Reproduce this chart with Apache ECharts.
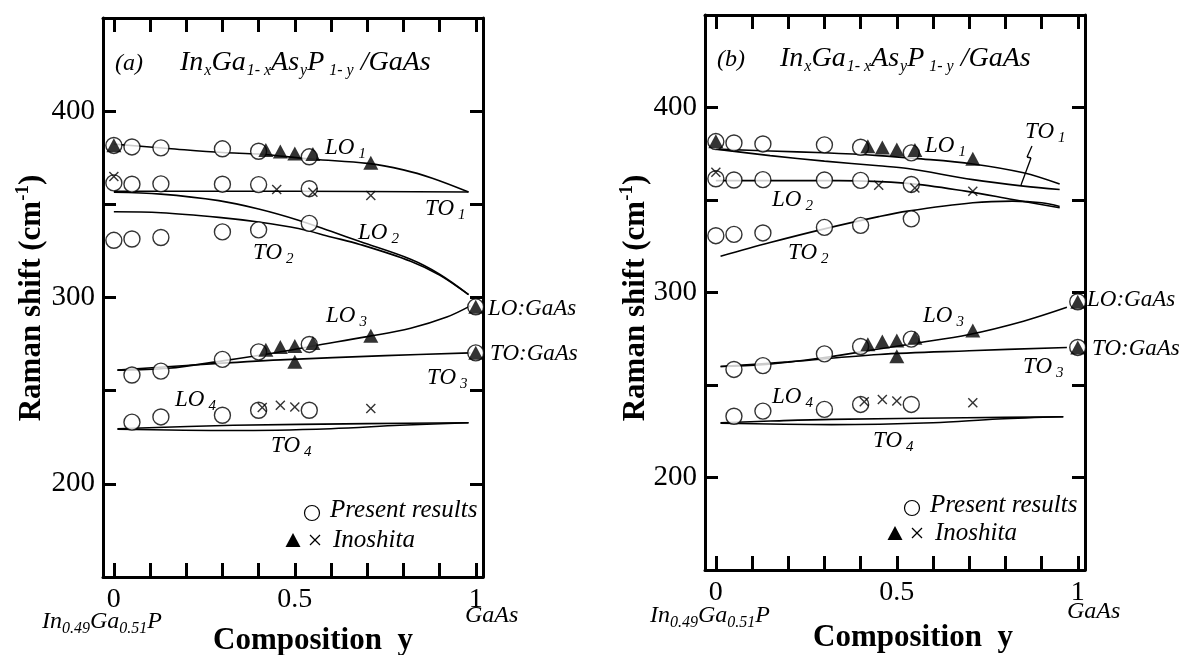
<!DOCTYPE html>
<html>
<head>
<meta charset="utf-8">
<script src="https://cdn.jsdelivr.net/npm/echarts@6/dist/echarts.min.js"></script>
<style>
  html, body { margin: 0; padding: 0; background: #fff; }
  #chart { width: 1190px; height: 655px; }
</style>
</head>
<body>
<div id="chart"></div>
<script>
const serif = '"Liberation Serif", "Times New Roman", serif'

// ---- measured points (same samples in both panels) ----
// present results (open circles)
const presentX = [0, 0.05, 0.13, 0.3, 0.4, 0.54]
const presentLO1 = [381.6, 380.8, 380.3, 379.8, 378.5, 375.5]
const presentTO1 = [361.5, 360.8, 361, 360.8, 360.6, 358.4]
const presentTO2 = [330.7, 331.4, 332.2, 335.2, 336.3, 339.8]
const presentX2 = [0.05, 0.13, 0.3, 0.4, 0.54]
const presentLO3 = [258.4, 260.5, 266.8, 270.8, 274.8]
const presentLO4 = [233.1, 235.9, 236.8, 239.5, 239.5]
// GaAs end point (LO, TO)
const gaasX = [1, 1]
const gaasModes = [295, 270.3]

// Inoshita (filled triangles and crosses)
const inoX1 = [0, 0.42, 0.46, 0.5, 0.55, 0.71]
const inoLO1 = [381.7, 379.1, 378.4, 377.3, 377, 372.3]
const inoX3 = [0.42, 0.46, 0.5, 0.55, 0.71]
const inoLO3 = [272, 273.5, 274, 275.6, 279.5]
const inoTO3X = [0.5]
const inoTO3 = [265.5]
const crossX1 = [0, 0.45, 0.55, 0.71]
const crossTO1 = [365, 358, 356.5, 354.7]
const crossX4 = [0.41, 0.46, 0.5, 0.71]
const crossLO4 = [241, 242.2, 241.3, 240.4]

// ---- calculated curves, panel (a) ----
const aLO1X = [0, 0.15, 0.3, 0.4, 0.55, 0.7, 0.8, 0.88, 0.98]
const aLO1 = [382.3, 380, 377.8, 377, 374.2, 372, 368.5, 364, 356.6]
const aTO1X = [0, 0.5, 0.98]
const aTO1 = [357, 357, 356.6]
const aMode2X = [0, 0.13, 0.29, 0.4, 0.51, 0.6, 0.68, 0.82, 0.9, 0.98]
const aLO2 = [356.5, 355.5, 352, 347.5, 341.5, 335.5, 330, 320.5, 312.5, 301.6]
const aTO2 = [346, 345.5, 343, 340.5, 337, 332.5, 328.5, 319.5, 312, 301.6]
const aLO3X = [0.01, 0.15, 0.3, 0.45, 0.55, 0.7, 0.82, 0.92, 0.985]
const aLO3 = [261, 262, 266, 270.5, 274, 279, 283.5, 289.5, 295.5]
const aTO3X = [0.01, 0.2, 0.46, 0.75, 0.985]
const aTO3 = [261, 263.5, 266.5, 268.8, 270.3]
const aLO4X = [0.01, 0.33, 0.7, 0.98]
const aLO4 = [229.6, 231.4, 232.3, 232.8]
const aTO4X = [0.01, 0.33, 0.6, 0.79, 0.98]
const aTO4 = [229.3, 228.6, 229.6, 231.4, 232.8]

// ---- calculated curves, panel (b) ----
const bLO1X = [0, 0.15, 0.3, 0.45, 0.55, 0.71, 0.85, 0.95]
const bLO1 = [377.5, 376.5, 375.5, 374, 372.5, 369.5, 364.7, 358.6]
const bTO1X = [0, 0.15, 0.3, 0.45, 0.53, 0.71, 0.85, 0.95]
const bTO1 = [377.5, 374, 371, 368.5, 367, 361, 357.5, 355.7]
const bLO2X = [0, 0.2, 0.34, 0.53, 0.69, 0.82, 0.95]
const bLO2 = [360.5, 360.5, 360.5, 359, 354.8, 350.3, 345.8]
const bTO2X = [0.013, 0.15, 0.3, 0.45, 0.53, 0.71, 0.82, 0.9, 0.95]
const bTO2 = [319.6, 327, 334.4, 341, 344, 348.5, 349.4, 348.5, 346.5]
const bLO3X = [0.013, 0.13, 0.3, 0.45, 0.55, 0.7, 0.85, 0.97]
const bLO3 = [260, 261, 264.9, 269.5, 272.5, 277.3, 284.5, 292]
const bTO3X = [0.013, 0.2, 0.45, 0.7, 0.97]
const bTO3 = [260, 262.5, 266.5, 268.5, 270.3]
const bLO4X = [0.013, 0.15, 0.32, 0.69, 0.96]
const bLO4 = [229.6, 230.5, 231.4, 232.3, 232.8]
const bTO4X = [0.013, 0.32, 0.6, 0.78, 0.96]
const bTO4 = [229.3, 228.6, 229.6, 231.6, 232.8]

// ticks
const xTicks = [0, 0.1, 0.2, 0.3, 0.4, 0.5, 0.6, 0.7, 0.8, 0.9, 1]
const xLabels = [0, 0.5, 1]
const yLabels = [200, 300, 400]

const pairs = (xs, ys) => xs.map((x, i) => [x, ys[i]])

const panels = [
  {
    grid: { left: 103, top: 18, width: 380, height: 559 },
    curves: [[aLO1X, aLO1], [aTO1X, aTO1], [aMode2X, aLO2], [aMode2X, aTO2],
      [aLO3X, aLO3], [aTO3X, aTO3], [aLO4X, aLO4], [aTO4X, aTO4]]
  },
  {
    grid: { left: 705, top: 15, width: 380, height: 555 },
    curves: [[bLO1X, bLO1], [bTO1X, bTO1], [bLO2X, bLO2], [bTO2X, bTO2],
      [bLO3X, bLO3], [bTO3X, bTO3], [bLO4X, bLO4], [bTO4X, bTO4]]
  }
]

const circles = [].concat(
  pairs(presentX, presentLO1), pairs(presentX, presentTO1), pairs(presentX, presentTO2),
  pairs(presentX2, presentLO3), pairs(presentX2, presentLO4), pairs(gaasX, gaasModes))
const triangles = [].concat(
  pairs(inoX1, inoLO1), pairs(inoX3, inoLO3), pairs(inoTO3X, inoTO3), pairs(gaasX, gaasModes))
const crosses = [].concat(pairs(crossX1, crossTO1), pairs(crossX4, crossLO4))

const crossPath = 'path://M0,1L1,0L5,4L9,0L10,1L6,5L10,9L9,10L5,6L1,10L0,9L4,5Z'

const frameLine = { onZero: false, lineStyle: { color: '#000', width: 3 } }
const tickStyle = { color: '#000', width: 3 }

const grids = []
const xAxes = []
const yAxes = []
const series = []

panels.forEach((p, i) => {
  grids.push(Object.assign({ containLabel: false }, p.grid))
  ;['bottom', 'top'].forEach(pos => {
    xAxes.push({
      gridIndex: i, type: 'value', position: pos, min: -0.03, max: 1.02,
      axisLine: frameLine,
      axisTick: { inside: true, length: 14, lineStyle: tickStyle, customValues: xTicks },
      axisLabel: {
        show: pos === 'bottom', customValues: xLabels, margin: 9,
        fontFamily: serif, fontSize: 28, color: '#000'
      },
      splitLine: { show: false }
    })
  })
  ;['left', 'right'].forEach(pos => {
    yAxes.push({
      gridIndex: i, type: 'value', position: pos, min: 150, max: 450, interval: 50,
      axisLine: frameLine,
      axisTick: { inside: true, length: 13, lineStyle: tickStyle },
      axisLabel: {
        show: pos === 'left', customValues: yLabels, margin: 8,
        fontFamily: serif, fontSize: 29, color: '#000'
      },
      splitLine: { show: false }
    })
  })
  p.curves.forEach(c => {
    series.push({
      type: 'line', xAxisIndex: 2 * i, yAxisIndex: 2 * i, data: pairs(c[0], c[1]),
      smooth: 0.35, symbol: 'none', silent: true, z: 2,
      lineStyle: { color: '#000', width: 1.6 }
    })
  })
  series.push({
    type: 'scatter', xAxisIndex: 2 * i, yAxisIndex: 2 * i, data: circles, clip: false, z: 3,
    symbol: 'circle', symbolSize: 16,
    itemStyle: { color: '#fff', borderColor: '#000', borderWidth: 1.4 }
  })
  series.push({
    type: 'scatter', xAxisIndex: 2 * i, yAxisIndex: 2 * i, data: triangles, clip: false, z: 4,
    symbol: 'triangle', symbolSize: [15, 14], itemStyle: { color: '#000' }
  })
  series.push({
    type: 'scatter', xAxisIndex: 2 * i, yAxisIndex: 2 * i, data: crosses, clip: false, z: 5,
    symbol: crossPath, symbolSize: 10, itemStyle: { color: '#000' }
  })
})

// text styles
const rich = {
  m: { fontFamily: serif, fontStyle: 'italic', fontSize: 23, fill: '#000' },
  s: { fontFamily: serif, fontStyle: 'italic', fontSize: 15, fill: '#000', padding: [13, 0, 0, 4] },
  t: { fontFamily: serif, fontStyle: 'italic', fontSize: 28, fill: '#000' },
  ts: { fontFamily: serif, fontStyle: 'italic', fontSize: 16, fill: '#000', padding: [16, 0, 0, 1] },
  p: { fontFamily: serif, fontStyle: 'italic', fontSize: 24, fill: '#000' },
  ps: { fontFamily: serif, fontStyle: 'italic', fontSize: 16, fill: '#000', padding: [13, 0, 0, 0] },
  g: { fontFamily: serif, fontStyle: 'italic', fontSize: 25, fill: '#000' },
  big: { fontFamily: serif, fontWeight: 'bold', fontSize: 31, fill: '#000' },
  sup: { fontFamily: serif, fontWeight: 'bold', fontSize: 19, fill: '#000', padding: [0, 0, 18, 0] }
}

const txt = (x, y, text, align, rot) => ({
  type: 'text', x: x, y: y, z: 100, silent: true, rotation: rot || 0,
  style: { text: text, rich: rich, textAlign: align || 'left', verticalAlign: 'middle', fill: '#000' }
})
const mode = (x, y, m, n) => txt(x, y, '{m|' + m + '}{s|' + n + '}')
const title = '{t|In}{ts|x}{t|Ga}{ts|1- x}{t|As}{ts|y}{t|P}{ts| 1- y}{t| /GaAs}'
const inp = '{p|In}{ps|0.49}{p|Ga}{ps|0.51}{p|P}'
const seg = (x1, y1, x2, y2) => ({
  type: 'line', shape: { x1: x1, y1: y1, x2: x2, y2: y2 },
  style: { stroke: '#000', lineWidth: 1.3 }, z: 100, silent: true
})

function legend (cx, cy, tx, ty, tx2, ty2) {
  const kx = tx2 - 18
  return [
    { type: 'circle', shape: { cx: cx, cy: cy, r: 7.5 }, style: { fill: '#fff', stroke: '#000', lineWidth: 1.2 }, z: 100, silent: true },
    txt(tx, ty, '{g|Present results}'),
    { type: 'polygon', shape: { points: [[tx2 - 40, ty2 - 7], [tx2 - 47.5, ty2 + 7], [tx2 - 32.5, ty2 + 7]] }, style: { fill: '#000' }, z: 100, silent: true },
    seg(kx - 5, ty2 - 5, kx + 5, ty2 + 5),
    seg(kx - 5, ty2 + 5, kx + 5, ty2 - 5),
    txt(tx2, ty2, '{g|Inoshita}')
  ]
}

const graphic = [
  // panel (a)
  txt(115, 64, '{p|(a)}'),
  txt(180, 63, title),
  mode(325, 148, 'LO', '1'),
  mode(425, 209, 'TO', '1'),
  mode(358, 233, 'LO', '2'),
  mode(253, 253, 'TO', '2'),
  mode(326, 316, 'LO', '3'),
  mode(427, 378, 'TO', '3'),
  mode(175, 400, 'LO', '4'),
  mode(271, 446, 'TO', '4'),
  txt(488, 309, '{m|LO:GaAs}'),
  txt(490, 354, '{m|TO:GaAs}'),
  txt(42, 622, inp),
  txt(465, 616, '{p|GaAs}'),
  txt(313, 641, '{big|Composition  y}', 'center'),
  txt(32, 298, '{big|Raman shift (cm}{sup|-1}{big|)}', 'center', Math.PI / 2),
  ...legend(312, 513, 330, 510, 333, 540),
  // panel (b)
  txt(717, 60, '{p|(b)}'),
  txt(780, 59, title),
  mode(925, 146, 'LO', '1'),
  mode(1025, 132, 'TO', '1'),
  seg(1032, 146, 1027, 157),
  seg(1027, 157, 1031, 158),
  seg(1031, 158, 1021, 185),
  mode(772, 200, 'LO', '2'),
  mode(788, 253, 'TO', '2'),
  mode(923, 316, 'LO', '3'),
  mode(1023, 367, 'TO', '3'),
  mode(772, 397, 'LO', '4'),
  mode(873, 441, 'TO', '4'),
  txt(1087, 300, '{m|LO:GaAs}'),
  txt(1092, 349, '{m|TO:GaAs}'),
  txt(650, 616, inp),
  txt(1067, 612, '{p|GaAs}'),
  txt(913, 638, '{big|Composition  y}', 'center'),
  txt(636, 298, '{big|Raman shift (cm}{sup|-1}{big|)}', 'center', Math.PI / 2),
  ...legend(912, 508, 930, 505, 935, 533)
]

const chart = echarts.init(document.getElementById('chart'), null, { renderer: 'canvas' })
chart.setOption({
  animation: false,
  backgroundColor: '#fff',
  grid: grids,
  xAxis: xAxes,
  yAxis: yAxes,
  series: series,
  graphic: graphic
})
</script>
</body>
</html>
